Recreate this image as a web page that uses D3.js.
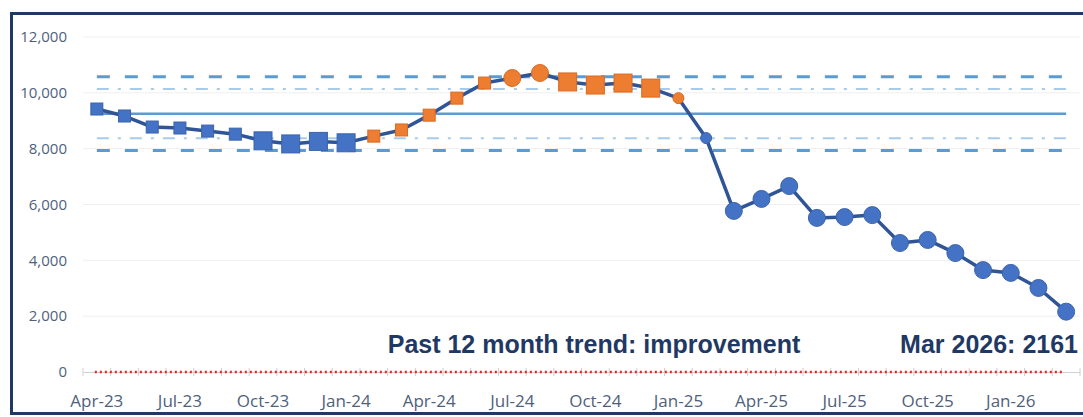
<!DOCTYPE html>
<html>
<head>
<meta charset="utf-8">
<script src="https://cdn.jsdelivr.net/npm/d3@7"></script>
<style>
  body { margin: 0; background: #fff; }
  svg { display: block; }
</style>
</head>
<body>
<svg id="chart" width="1083" height="417"></svg>
<script>
// data
var months = ['Apr-23','May-23','Jun-23','Jul-23','Aug-23','Sep-23','Oct-23','Nov-23','Dec-23',
  'Jan-24','Feb-24','Mar-24','Apr-24','May-24','Jun-24','Jul-24','Aug-24','Sep-24','Oct-24','Nov-24','Dec-24',
  'Jan-25','Feb-25','Mar-25','Apr-25','May-25','Jun-25','Jul-25','Aug-25','Sep-25','Oct-25','Nov-25','Dec-25',
  'Jan-26','Feb-26','Mar-26'];
var values = [9420, 9170, 8775, 8740, 8630, 8520, 8280, 8170, 8260,
  8210, 8450, 8670, 9200, 9810, 10350, 10530, 10710, 10390, 10280, 10350, 10170,
  9810, 8380, 5770, 6200, 6660, 5520, 5550, 5620, 4620, 4730, 4260, 3650,
  3550, 3010, 2161];
// marker code: s = square, S = big square, c = circle, C = big circle
var shapes = ['s','s','s','s','s','s','S','S','S',
  'S','s','s','s','s','s','C','C','S','S','S','S',
  'c','c','C','C','C','C','C','C','C','C','C','C',
  'C','C','C'];
// o = concern (orange), b = normal/improvement (blue)
var signal = ['b','b','b','b','b','b','b','b','b',
  'b','o','o','o','o','o','o','o','o','o','o','o',
  'o','b','b','b','b','b','b','b','b','b','b','b',
  'b','b','b'];
var yTicks = [0, 2000, 4000, 6000, 8000, 10000, 12000];
var xLabels = ['Apr-23','Jul-23','Oct-23','Jan-24','Apr-24','Jul-24','Oct-24','Jan-25','Apr-25','Jul-25','Oct-25','Jan-26'];
var mean = 9255, upperCL = 10575, lowerCL = 7935, upperWL = 10135, lowerWL = 8375;
var target = 0;
var trendText = 'Past 12 month trend: improvement';
var latestText = 'Mar 2026: 2161';

var svg = d3.select('#chart');
var x = d3.scaleBand().domain(months).range([83, 1080]);
var y = d3.scaleLinear().domain([0, 12000]).range([372, 37]);
var cx = function (m) { return x(m) + x.bandwidth() / 2; };
var navy = '#1F3864', blue = '#4472C4', orange = '#ED7D31';
var labelFont = '"Open Sans", "Noto Sans", sans-serif';

// gridlines
svg.append('g').selectAll('line').data(yTicks.filter(function (d) { return d > 0; }))
  .enter().append('line')
  .attr('x1', 83).attr('x2', 1080)
  .attr('y1', function (d) { return y(d); }).attr('y2', function (d) { return y(d); })
  .attr('stroke', '#efefef').attr('stroke-width', 1);

// y axis labels
var yAxis = svg.append('g').attr('transform', 'translate(70,0)')
  .call(d3.axisLeft(y).tickValues(yTicks).tickSize(0).tickPadding(3).tickFormat(d3.format(',')));
yAxis.select('.domain').remove();
yAxis.selectAll('text').attr('font-family', labelFont)
  .attr('font-size', 15).attr('fill', '#4F5F7C');

// x axis: light line with monthly ticks
var xg = svg.append('g').attr('transform', 'translate(0,' + y(0) + ')')
  .call(d3.axisBottom(x).tickValues(months).tickSize(0).tickFormat(''));
xg.select('.domain').attr('stroke', '#d0d0d0').attr('stroke-width', 1);
svg.append('g').selectAll('line').data(months.concat(['end'])).enter().append('line')
  .attr('x1', function (d, i) { return 83 + i * x.step(); })
  .attr('x2', function (d, i) { return 83 + i * x.step(); })
  .attr('y1', y(0) - 4).attr('y2', y(0) + 4)
  .attr('stroke', '#d0d0d0');
svg.append('g').selectAll('text').data(xLabels).enter().append('text')
  .attr('x', function (d) { return cx(d); }).attr('y', 407)
  .attr('text-anchor', 'middle')
  .attr('font-family', labelFont)
  .attr('font-size', 17).attr('fill', '#4F5F7C')
  .text(function (d) { return d; });

// control / warning limits and mean
var x0 = cx(months[0]), x1 = cx(months[months.length - 1]);
function hline(v, color, w, dash) {
  svg.append('line').attr('x1', x0).attr('x2', x1).attr('y1', y(v)).attr('y2', y(v))
    .attr('stroke', color).attr('stroke-width', w).attr('stroke-dasharray', dash);
}
hline(upperCL, '#5B9BD5', 3, '13,15');
hline(lowerCL, '#5B9BD5', 3, '13,15');
hline(upperWL, '#A9CBEA', 2, '12,9,3,9');
hline(lowerWL, '#A9CBEA', 2, '12,9,3,9');
hline(mean, '#5B9BD5', 2.5, null);
// target
svg.append('line').attr('x1', x0 - 2).attr('x2', x1 - 4).attr('y1', y(target)).attr('y2', y(target))
  .attr('stroke', '#E8262A').attr('stroke-width', 2.5).attr('stroke-dasharray', '2,3');

// series line
var line = d3.line()
  .x(function (d, i) { return cx(months[i]); })
  .y(function (d) { return y(d); });
svg.append('path').datum(values).attr('d', line)
  .attr('fill', 'none').attr('stroke', '#2F5597').attr('stroke-width', 3.5)
  .attr('stroke-linejoin', 'round');

// markers
var sizes = { s: 12, S: 18, c: 11, C: 17 };
var pts = svg.append('g').selectAll('g').data(values).enter().append('g')
  .attr('transform', function (d, i) { return 'translate(' + cx(months[i]) + ',' + y(d) + ')'; });
pts.each(function (d, i) {
  var g = d3.select(this), k = shapes[i], sz = sizes[k];
  var fill = signal[i] === 'o' ? orange : blue;
  var edge = signal[i] === 'o' ? '#D9691F' : '#3A63AD';
  if (k === 's' || k === 'S') {
    g.append('rect').attr('x', -sz / 2).attr('y', -sz / 2).attr('width', sz).attr('height', sz)
      .attr('fill', fill).attr('stroke', edge).attr('stroke-width', 1);
  } else {
    g.append('circle').attr('r', sz / 2).attr('fill', fill).attr('stroke', edge).attr('stroke-width', 1);
  }
});

// annotations
svg.append('text').attr('x', 594).attr('y', 353).attr('text-anchor', 'middle')
  .attr('font-family', '"Liberation Sans", Arial, sans-serif').attr('font-weight', 'bold')
  .attr('font-size', 25).attr('fill', navy).text(trendText);
svg.append('text').attr('x', 1078).attr('y', 353).attr('text-anchor', 'end')
  .attr('font-family', '"Liberation Sans", Arial, sans-serif').attr('font-weight', 'bold')
  .attr('font-size', 25).attr('fill', navy).text(latestText);

// frame
svg.append('rect').attr('x', 11.5).attr('y', 13.5).attr('width', 1090).attr('height', 400)
  .attr('fill', 'none').attr('stroke', navy).attr('stroke-width', 3);
</script>
</body>
</html>
